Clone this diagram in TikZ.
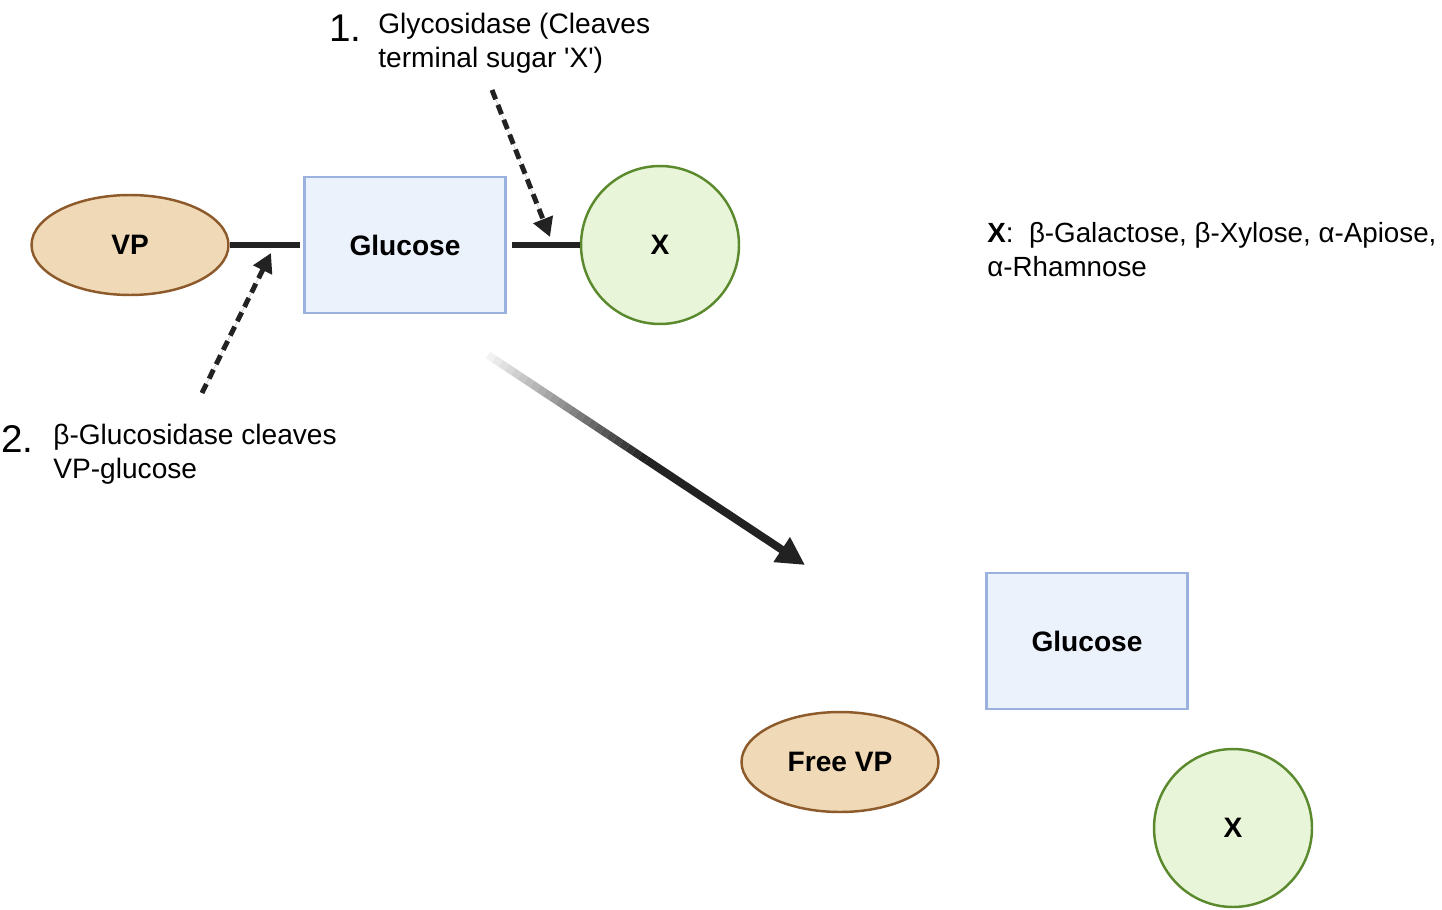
\documentclass[tikz,border=0pt]{standalone}
\usepackage{fontspec}
\setmainfont{Liberation Sans}
\usetikzlibrary{shapes.geometric,arrows.meta,calc}
\definecolor{vpfill}{HTML}{F0D9B6}
\definecolor{vpline}{HTML}{8C5A2B}
\definecolor{glcfill}{HTML}{EBF2FC}
\definecolor{glcline}{HTML}{9BB1DE}
\definecolor{xfill}{HTML}{E9F5D8}
\definecolor{xline}{HTML}{5A8A2D}
\definecolor{inkdark}{HTML}{222222}
\begin{document}
\begin{tikzpicture}[x=0.02cm,y=-0.02cm,
  vpnode/.style={draw=vpline,fill=vpfill,ellipse,line width=1.4pt,minimum width=3.94cm,minimum height=2cm,font=\fontsize{16}{18}\selectfont\bfseries},
  glcnode/.style={draw=glcline,fill=glcfill,rectangle,line width=1.4pt,minimum width=4.02cm,minimum height=2.72cm,font=\fontsize{16}{18}\selectfont\bfseries},
  xnode/.style={draw=xline,fill=xfill,circle,line width=1.4pt,minimum size=3.16cm,font=\fontsize{16}{18}\selectfont\bfseries},
  bond/.style={draw=inkdark,line width=3.4pt},
  enzarrow/.style={draw=inkdark,fill=inkdark,line width=2.8pt,dash pattern=on 0.2cm off 0.12cm,-{Triangle[length=0.38cm,width=0.4cm]}},
  note/.style={inner sep=0pt,align=left,font=\fontsize{16}{19.3}\selectfont},
  stepnum/.style={inner sep=0pt,font=\fontsize{22}{24}\selectfont}]
\useasboundingbox (0,0) rectangle (1442,909);
% substrate
\node[vpnode] (VP) at (130,245){VP};
\node[glcnode] (G1) at (405,245){Glucose};
\node[xnode] (X1) at (660,245){X};
\draw [bond](VP) -- ([xshift=-2]G1.west);
\draw [bond]([xshift=3]G1.east) -- (X1);
% enzymes
\coordinate (E1s) at (492,90);
\coordinate (E1e) at (550,237);
\coordinate (E2s) at (202,393);
\coordinate (E2e) at (271,253);
\draw [enzarrow](E1s) -- (E1e);
\draw [enzarrow](E2s) -- (E2e);
\node[stepnum,anchor=base west] (N1) at (329,42){1.};
\node[note,anchor=north west] (T1) at (378,13){Glycosidase (Cleaves\\terminal sugar \textquotesingle X\textquotesingle)};
\node[stepnum,anchor=base west] (N2) at (1,452){2.};
\node[note,anchor=north west] (T2) at (53,424){β-Glucosidase cleaves\\VP-glucose};
\node[note,anchor=north west,font=\fontsize{15.8}{19.3}\selectfont] (L) at (987,222){\textbf{X}:\ \ β-Galactose, β-Xylose, α-Apiose,\\α-Rhamnose};
% reaction arrow
\coordinate (RS) at (488,355);
\coordinate (RM) at ($(488,355)!0.5!(805,565)$);
\coordinate (RE) at (805,565);
\foreach \i in {0,...,24}{
  \pgfmathsetmacro\inkval{6+\i*3.9}
  \draw[line width=4.5pt,draw=inkdark!\inkval!white] ($(RS)!\i/50!(RE)$) -- ($(RS)!{(\i+1)/50}!(RE)$);
}
\draw [line width=4.5pt,draw=inkdark,fill=inkdark,-{Triangle[length=0.56cm,width=0.56cm]}](RM) -- (RE);
% products
\node[glcnode] (G2) at (1087,641){Glucose};
\node[vpnode] (FVP) at (840,762){Free VP};
\node[xnode] (X2) at (1233,828){X};
\end{tikzpicture}
\end{document}
